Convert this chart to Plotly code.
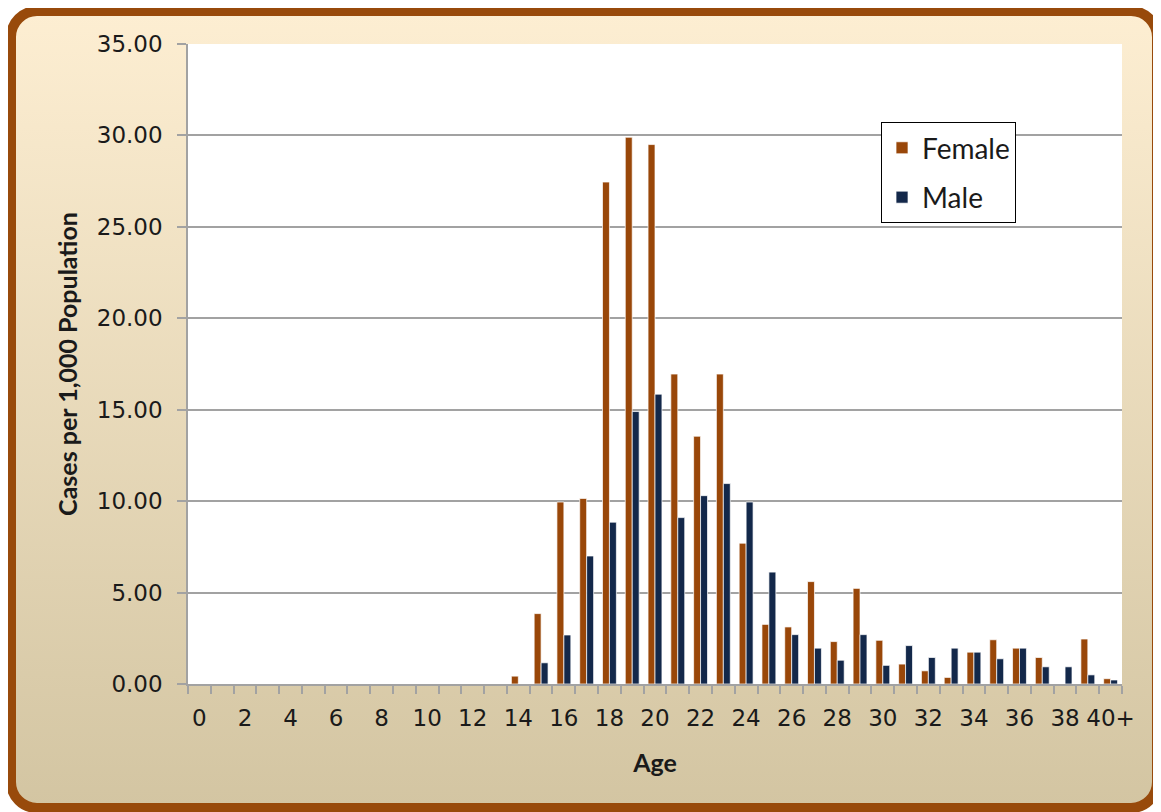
import plotly.graph_objects as go

# age groups (categories on the x axis)
ages = ['0', '1', '2', '3', '4', '5', '6', '7', '8', '9',
        '10', '11', '12', '13', '14', '15', '16', '17', '18', '19',
        '20', '21', '22', '23', '24', '25', '26', '27', '28', '29',
        '30', '31', '32', '33', '34', '35', '36', '37', '38', '39', '40+']

# cases per 1,000 population
female = [0, 0, 0, 0, 0, 0, 0, 0, 0, 0,
          0, 0, 0, 0, 0.43, 3.85, 9.95, 10.15, 27.45, 29.9,
          29.5, 16.95, 13.55, 16.95, 7.7, 3.26, 3.12, 5.6, 2.32, 5.23,
          2.39, 1.09, 0.72, 0.36, 1.74, 2.42, 1.96, 1.45, 0.0, 2.46, 0.29]
male = [0, 0, 0, 0, 0, 0, 0, 0, 0, 0,
        0, 0, 0, 0, 0, 1.16, 2.68, 7.0, 8.85, 14.9,
        15.85, 9.1, 10.3, 10.96, 9.95, 6.12, 2.7, 1.96, 1.3, 2.7,
        1.02, 2.1, 1.45, 1.96, 1.74, 1.38, 1.96, 0.94, 0.94, 0.5, 0.22]

y_ticks = [0, 5, 10, 15, 20, 25, 30, 35]

# page body adds 8px, so the figure is a bit smaller than the window
W, H = 1153, 804
ml, mr, mt, mb = 180, 39, 36, 128
pw, ph = W - ml - mr, H - mt - mb

grey = '#a2a2a2'
col_f = '#994709'
col_m = '#13284a'
txt = '#1a1a1a'

# only every second age gets a label, ticks sit on every category boundary
tick_text = [a if i % 2 == 0 else '' for i, a in enumerate(ages)]

bg_svg = (
    "data:image/svg+xml;utf8,"
    "<svg xmlns='http://www.w3.org/2000/svg' width='1153' height='804' viewBox='0 0 1153 804'>"
    "<defs><linearGradient id='g' x1='0' y1='0' x2='0' y2='1'>"
    "<stop offset='0' stop-color='%23fdeed2'/>"
    "<stop offset='1' stop-color='%23d3c5a2'/>"
    "</linearGradient></defs>"
    "<rect x='3' y='3' width='1146' height='797' rx='26' ry='26' "
    "fill='url(%23g)' stroke='%23984a0b' stroke-width='10'/>"
    "</svg>"
)

fig = go.Figure()
fig.add_trace(go.Bar(x=ages, y=female, name='Female', legendgroup='f',
                     marker=dict(color=col_f, line=dict(color='rgba(255,255,255,0.7)', width=1))))
fig.add_trace(go.Bar(x=ages, y=male, name='Male', legendgroup='m',
                     marker=dict(color=col_m, line=dict(color='rgba(255,255,255,0.7)', width=1))))

fig.add_layout_image(dict(source=bg_svg, xref='paper', yref='paper',
                          x=-ml / pw, y=1 + mt / ph, sizex=W / pw, sizey=H / ph,
                          xanchor='left', yanchor='top', sizing='stretch', layer='below'))
fig.add_shape(type='rect', xref='paper', yref='paper', x0=0, x1=1, y0=0, y1=1,
              fillcolor='white', line=dict(width=0), layer='below')

fig.update_layout(
    width=W, height=H,
    margin=dict(l=ml, r=mr, t=mt, b=mb),
    paper_bgcolor='white',
    plot_bgcolor='white',
    barmode='group',
    bargap=0.39,
    bargroupgap=0,
    font=dict(family='DejaVu Sans', size=23, color=txt),
    legend=dict(x=0.742, y=0.878, xanchor='left', yanchor='top',
                bgcolor='white', bordercolor='black', borderwidth=1,
                font=dict(family='Lato', size=28, color=txt),
                traceorder='grouped', tracegroupgap=10),
    showlegend=True,
)
fig.update_xaxes(
    type='category', tickmode='array', tickvals=ages, ticktext=tick_text,
    tickson='boundaries', ticks='outside', ticklen=8, tickcolor=grey, tickwidth=1.5,
    showline=True, linecolor=grey, linewidth=1.5, showgrid=False,
    tickangle=0, ticklabelstandoff=13,
    title=dict(text='<b>Age</b>', font=dict(family='Lato', size=25, color=txt), standoff=24),
)
fig.update_yaxes(
    range=[0, 35], tickvals=y_ticks, tickformat='.2f',
    ticks='outside', ticklen=9, tickcolor=grey, tickwidth=1.5,
    showline=True, linecolor=grey, linewidth=1.5,
    showgrid=True, gridcolor=grey, gridwidth=1.5, zeroline=False,
    ticklabelstandoff=10,
    title=dict(text='<b>Cases per 1,000 Population</b>',
               font=dict(family='Lato', size=25, color=txt), standoff=12),
)

fig.write_html("out.html")
